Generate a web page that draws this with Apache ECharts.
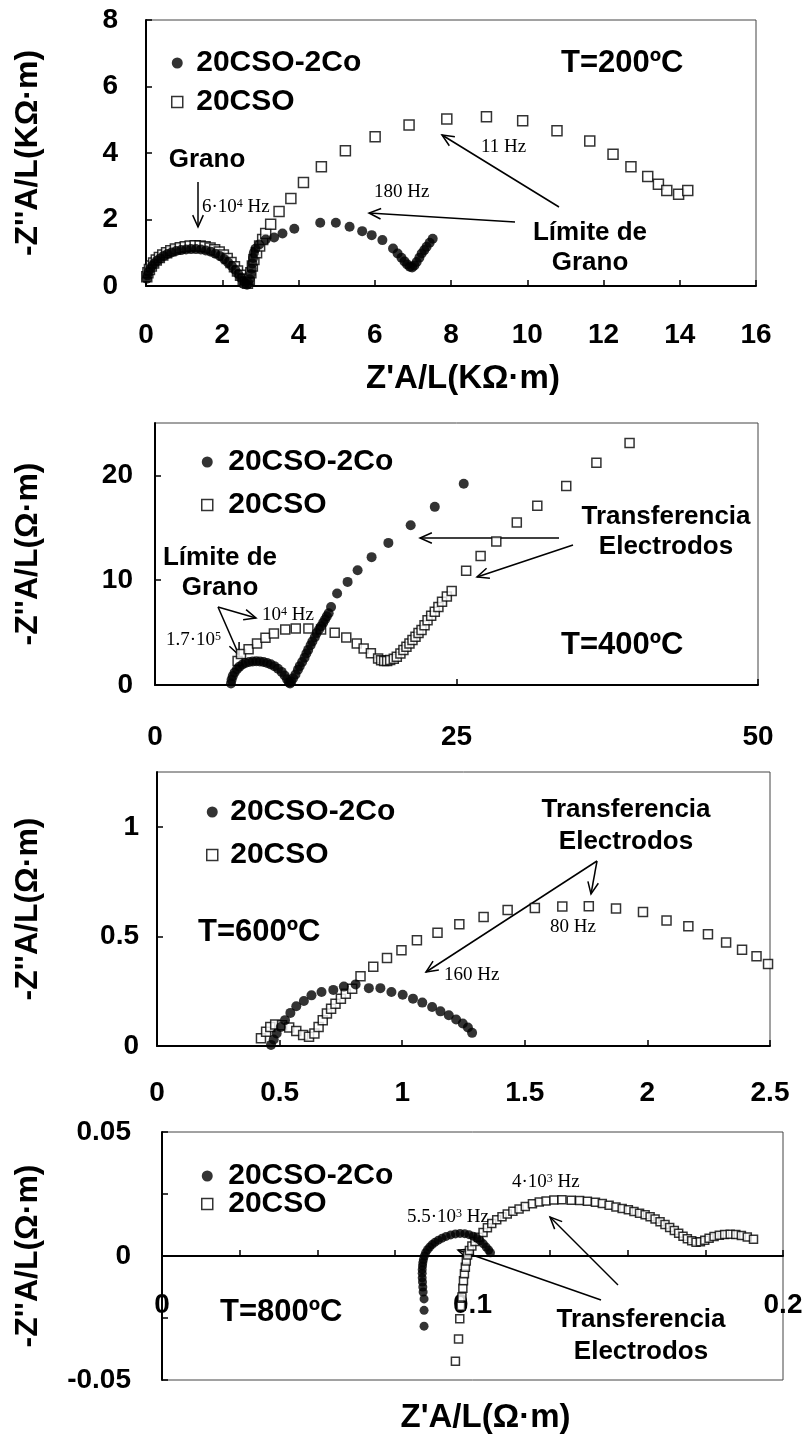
<!DOCTYPE html>
<html>
<head>
<meta charset="utf-8">
<script src="https://cdn.jsdelivr.net/npm/echarts@6/dist/echarts.min.js"></script>
<style>
html,body{margin:0;padding:0;background:#fff;}
#chart{width:807px;height:1443px;}
</style>
</head>
<body>
<div id="chart"></div>
<script>
// ---------- DATA ----------
// Panel 1: T=200ºC  (Z'A/L, -Z''A/L) in KΩ·m
const p1Co = [[0.02,0.22],[0.04,0.32],[0.07,0.42],[0.11,0.51],[0.16,0.6],[0.22,0.68],[0.29,0.76],[0.37,0.83],[0.46,0.9],[0.56,0.96],[0.67,1.01],[0.79,1.05],[0.92,1.08],[1.05,1.1],[1.18,1.11],[1.31,1.11],[1.44,1.1],[1.57,1.07],[1.7,1.03],[1.82,0.97],[1.94,0.9],[2.05,0.81],[2.15,0.71],[2.25,0.6],[2.34,0.48],[2.42,0.36],[2.49,0.25],[2.55,0.15],[2.6,0.08],[2.65,0.04],[2.69,0.08],[2.72,0.2],[2.75,0.36],[2.77,0.52],[2.79,0.68],[2.81,0.84],[2.83,1.0],[2.87,1.12],[2.97,1.25],[3.14,1.4],[3.36,1.46],[3.58,1.58],[3.89,1.72],[4.57,1.9],[4.98,1.9],[5.34,1.78],[5.67,1.65],[5.92,1.53],[6.2,1.38],[6.48,1.13],[6.6,0.98],[6.7,0.85],[6.78,0.74],[6.85,0.65],[6.92,0.58],[6.98,0.56],[7.04,0.62],[7.1,0.72],[7.17,0.85],[7.23,0.98],[7.3,1.08],[7.36,1.18],[7.44,1.3],[7.52,1.42]];
const p1Cso = [[0.02,0.28],[0.05,0.4],[0.09,0.5],[0.14,0.6],[0.2,0.69],[0.27,0.78],[0.35,0.86],[0.44,0.93],[0.54,1.0],[0.65,1.06],[0.77,1.11],[0.9,1.15],[1.03,1.18],[1.16,1.2],[1.29,1.21],[1.42,1.2],[1.55,1.18],[1.68,1.14],[1.8,1.09],[1.92,1.02],[2.03,0.93],[2.13,0.83],[2.23,0.71],[2.32,0.58],[2.4,0.45],[2.48,0.32],[2.55,0.2],[2.61,0.11],[2.66,0.08],[2.71,0.2],[2.75,0.4],[2.79,0.6],[2.83,0.8],[2.9,1.0],[2.98,1.2],[3.06,1.4],[3.14,1.58],[3.27,1.86],[3.49,2.24],[3.8,2.63],[4.13,3.11],[4.6,3.59],[5.23,4.07],[6.01,4.49],[6.9,4.84],[7.89,5.02],[8.93,5.09],[9.88,4.97],[10.78,4.67],[11.64,4.36],[12.25,3.96],[12.72,3.59],[13.16,3.29],[13.44,3.06],[13.66,2.87],[13.97,2.76],[14.21,2.87]];

// Panel 2: T=400ºC  in Ω·m
const p2Co = [[6.3,0.15],[6.35,0.5],[6.45,0.85],[6.6,1.2],[6.8,1.5],[7.0,1.75],[7.25,1.95],[7.5,2.1],[7.8,2.2],[8.1,2.25],[8.4,2.27],[8.7,2.25],[9.0,2.2],[9.3,2.1],[9.6,1.97],[9.9,1.8],[10.2,1.55],[10.5,1.25],[10.75,0.9],[10.95,0.55],[11.1,0.25],[11.2,0.15],[11.3,0.3],[11.45,0.65],[11.65,1.0],[11.85,1.45],[12.0,1.8],[12.2,2.2],[12.4,2.6],[12.55,3.0],[12.7,3.35],[12.9,3.8],[13.05,4.15],[13.25,4.55],[13.4,4.95],[13.6,5.3],[13.77,5.6],[13.95,5.95],[14.1,6.25],[14.25,6.55],[14.4,6.85],[14.6,7.45],[15.1,8.73],[15.97,9.84],[16.8,10.95],[17.96,12.2],[19.35,13.56],[21.2,15.24],[23.2,17.0],[25.6,19.2]];
const p2Cso = [[6.85,2.3],[7.13,2.95],[7.76,3.4],[8.46,3.97],[9.16,4.51],[9.86,4.92],[10.8,5.3],[11.67,5.4],[12.72,5.4],[13.77,5.3],[14.9,4.98],[15.86,4.54],[16.73,3.97],[17.3,3.49],[17.9,3.02],[18.5,2.54],[18.75,2.35],[19.0,2.29],[19.25,2.3],[19.5,2.38],[19.8,2.5],[20.05,2.7],[20.35,3.0],[20.6,3.33],[20.85,3.65],[21.1,3.97],[21.35,4.3],[21.6,4.6],[21.85,4.95],[22.1,5.24],[22.35,5.7],[22.6,6.19],[22.9,6.6],[23.2,6.98],[23.5,7.45],[23.8,7.94],[24.2,8.45],[24.6,8.98],[25.8,10.9],[27.0,12.3],[28.3,13.7],[30.0,15.5],[31.7,17.1],[34.1,19.0],[36.6,21.2],[39.35,23.1]];

// Panel 3: T=600ºC  in Ω·m
const p3Co = [[0.465,0.005],[0.476,0.03],[0.488,0.057],[0.505,0.087],[0.522,0.118],[0.544,0.151],[0.568,0.181],[0.599,0.205],[0.63,0.231],[0.671,0.246],[0.719,0.256],[0.762,0.271],[0.81,0.281],[0.864,0.264],[0.911,0.264],[0.956,0.246],[1.002,0.234],[1.044,0.216],[1.082,0.198],[1.122,0.178],[1.156,0.158],[1.19,0.14],[1.22,0.121],[1.247,0.103],[1.268,0.084],[1.285,0.06]];
const p3Cso = [[0.424,0.035],[0.445,0.065],[0.462,0.087],[0.482,0.098],[0.51,0.095],[0.539,0.084],[0.568,0.069],[0.596,0.05],[0.62,0.042],[0.642,0.057],[0.659,0.087],[0.676,0.118],[0.693,0.148],[0.71,0.17],[0.728,0.193],[0.75,0.216],[0.77,0.238],[0.796,0.261],[0.83,0.318],[0.882,0.362],[0.938,0.401],[0.997,0.437],[1.06,0.483],[1.144,0.517],[1.233,0.555],[1.332,0.588],[1.43,0.62],[1.541,0.63],[1.653,0.636],[1.761,0.638],[1.872,0.627],[1.982,0.611],[2.078,0.573],[2.167,0.546],[2.247,0.51],[2.321,0.472],[2.386,0.439],[2.445,0.409],[2.492,0.374]];

// Panel 4: T=800ºC  in Ω·m
const p4Co = [[0.0844,-0.0283],[0.0844,-0.0219],[0.0844,-0.0173],[0.0841,-0.0145],[0.084,-0.0125],[0.0839,-0.0105],[0.0838,-0.0088],[0.0838,-0.007],[0.0838,-0.0055],[0.0839,-0.004],[0.084,-0.0027],[0.0842,-0.0014],[0.0845,0.0],[0.0849,0.0013],[0.0855,0.0025],[0.0862,0.0036],[0.087,0.0046],[0.0879,0.0055],[0.089,0.0064],[0.0902,0.0072],[0.0915,0.0079],[0.093,0.0085],[0.0945,0.0089],[0.096,0.0091],[0.0975,0.009],[0.0989,0.0086],[0.1002,0.008],[0.1014,0.0071],[0.1025,0.0061],[0.1035,0.0049],[0.1044,0.0036],[0.1052,0.0024],[0.1058,0.0013]];
const p4Cso = [[0.0945,-0.0424],[0.0955,-0.0335],[0.0959,-0.0253],[0.0963,-0.0203],[0.0966,-0.0165],[0.0969,-0.013],[0.0971,-0.01],[0.0974,-0.0072],[0.0977,-0.0045],[0.098,-0.002],[0.0984,0.0004],[0.099,0.0022],[0.0998,0.004],[0.1008,0.0058],[0.102,0.0076],[0.1034,0.0095],[0.1048,0.0114],[0.1062,0.0131],[0.1078,0.0146],[0.1095,0.0158],[0.1112,0.0169],[0.113,0.018],[0.115,0.019],[0.117,0.02],[0.1193,0.0211],[0.1215,0.0218],[0.1237,0.0222],[0.1262,0.0226],[0.1288,0.0227],[0.1318,0.0225],[0.1345,0.0224],[0.137,0.0221],[0.1396,0.0217],[0.1418,0.0212],[0.144,0.0205],[0.1462,0.0198],[0.1482,0.0192],[0.1502,0.0186],[0.152,0.0179],[0.1538,0.0172],[0.1556,0.0166],[0.1572,0.0158],[0.1588,0.0149],[0.1604,0.0138],[0.162,0.0127],[0.1635,0.0115],[0.165,0.0103],[0.1664,0.0092],[0.1678,0.008],[0.1692,0.007],[0.1706,0.0061],[0.172,0.0055],[0.1734,0.0057],[0.1748,0.0064],[0.1762,0.0072],[0.1778,0.0079],[0.1795,0.0084],[0.1812,0.0087],[0.183,0.0088],[0.1848,0.0087],[0.1866,0.0083],[0.1885,0.0077],[0.1905,0.0068]];

const seriesNames = ['20CSO-2Co', '20CSO'];
const xTitles = ["Z'A/L(KΩ·m)", '', '', "Z'A/L(Ω·m)"];
const yTitles = ["-Z''A/L(KΩ·m)", "-Z''A/L(Ω·m)", "-Z''A/L(Ω·m)", "-Z''A/L(Ω·m)"];
const xRanges = [[0,16,2],[0,50,25],[0,2.5,0.5],[0,0.2,0.025]];
const yRanges = [[0,8,2],[0,25,10],[0,1.25,0.5],[-0.05,0.05,0.025]];
const tempLabels = ['T=200ºC','T=400ºC','T=600ºC','T=800ºC'];

// ---------- LAYOUT / STYLE ----------
const SANS = '"Liberation Sans", Arial, Helvetica, sans-serif';
const SERIF = '"Liberation Serif", "Times New Roman", serif';
const grids = [
  {left:146, top:20,   width:610, height:266},
  {left:155, top:423,  width:603, height:262},
  {left:157, top:772,  width:613, height:274},
  {left:162, top:1132, width:621, height:248}
];
const xLabelMargin = [35, 38, 33, 35];
const yLabelMargin = [28, 22, 18, 31];
const yNameGap = [102, 111, 113, 118];
const xNameGap = [76, 0, 0, 145];
const xAxisOffset = [0, 0, 0, -124];   // panel 4: x axis drawn through y = 0
const circleSize = [10, 10, 10, 9];
const squareSize = [10, 9, 9, 8];

function stepFormatter(step, dec) {
  return function (v) {
    const r = v / step;
    if (Math.abs(r - Math.round(r)) < 1e-6) {
      return String(+(Math.round(r) * step).toFixed(dec));
    }
    return '';
  };
}

const xAxes = xRanges.map((r, i) => ({
  type: 'value', gridIndex: i, min: r[0], max: r[1], interval: r[2],
  position: 'bottom', offset: xAxisOffset[i],
  name: xTitles[i], nameLocation: 'middle', nameGap: xNameGap[i],
  nameTextStyle: {fontFamily: SANS, fontWeight: 'bold', fontSize: 33, color: '#000', padding: [0,0,0,i===3?26:24]},
  axisLine: {show: true, onZero: false, lineStyle: {color: '#000', width: 2}},
  axisTick: {show: true, inside: true, length: 6, lineStyle: {color: '#000', width: 1.5}},
  axisLabel: {fontFamily: SANS, fontWeight: 'bold', fontSize: 28, color: '#000', margin: xLabelMargin[i],
    formatter: i === 3 ? stepFormatter(0.1, 1) : undefined},
  splitLine: {show: false}
}));
const yAxes = yRanges.map((r, i) => ({
  type: 'value', gridIndex: i, min: r[0], max: r[1], interval: r[2],
  name: yTitles[i], nameLocation: 'middle', nameGap: yNameGap[i], nameRotate: 90,
  nameTextStyle: {fontFamily: SANS, fontWeight: 'bold', fontSize: 32, color: '#000'},
  axisLine: {show: true, onZero: false, lineStyle: {color: '#000', width: 2}},
  axisTick: {show: true, inside: true, length: 6, lineStyle: {color: '#000', width: 1.5}},
  axisLabel: {fontFamily: SANS, fontWeight: 'bold', fontSize: 28, color: '#000', margin: yLabelMargin[i],
    showMaxLabel: (i === 1 || i === 2) ? false : true,
    formatter: i === 3 ? stepFormatter(0.05, 2) : undefined},
  splitLine: {show: false}
}));

const panelData = [[p1Co, p1Cso], [p2Co, p2Cso], [p3Co, p3Cso], [p4Co, p4Cso]];
const series = [];
panelData.forEach((pair, i) => {
  series.push({
    type: 'scatter', name: seriesNames[1], xAxisIndex: i, yAxisIndex: i,
    data: pair[1], symbol: 'rect', symbolSize: squareSize[i],
    itemStyle: {color: '#fff', borderColor: '#000', borderWidth: 1.5}, z: 2, animation: false
  });
  series.push({
    type: 'scatter', name: seriesNames[0], xAxisIndex: i, yAxisIndex: i,
    data: pair[0], symbol: 'circle', symbolSize: circleSize[i],
    itemStyle: {color: '#000'}, z: 3, animation: false
  });
});

const legendPos = [
  {left:171, top:48,   gap:9,  pad:8},
  {left:201, top:447,  gap:13, pad:10},
  {left:206, top:797,  gap:13, pad:7},
  {left:201, top:1161, gap:-2, pad:10}
];
const squareIcon = 'path://M0,0L10,0L10,10L0,10Z';
const legends = legendPos.map(p => ({
  orient: 'vertical', left: p.left, top: p.top, itemGap: p.gap, padding: 0,
  itemWidth: 12, itemHeight: 11, selectedMode: false, symbolKeepAspect: true,
  data: [{name: seriesNames[0], icon: 'circle'},
         {name: seriesNames[1], icon: squareIcon,
          itemStyle: {color: '#fff', borderColor: '#000', borderWidth: 1.5}}],
  textStyle: {fontFamily: SANS, fontWeight: 'bold', fontSize: 30, color: '#000', lineHeight: 30,
    padding: [0, 0, 0, p.pad]}
}));

// ---------- ANNOTATIONS ----------
function label(x, y, s, size, align) {
  return {type: 'text', x: x, y: y, z: 10, style: {text: s, fill: '#000', fontFamily: SANS, fontWeight: 'bold',
    fontSize: size, textAlign: align || 'left', textVerticalAlign: 'middle'}};
}
function hz(x, y, s) {
  return {type: 'text', x: x, y: y, z: 10, style: {text: s, fill: '#000', fontFamily: SERIF, fontSize: 19,
    textAlign: 'left', textVerticalAlign: 'middle',
    rich: {sup: {fontFamily: SERIF, fontSize: 12, verticalAlign: 'top', fill: '#000'}}}};
}
function arrow(x1, y1, x2, y2) {
  const a = Math.atan2(y2 - y1, x2 - x1), L = 13, w = 0.42;
  return {type: 'group', z: 10, children: [
    {type: 'line', shape: {x1: x1, y1: y1, x2: x2, y2: y2}, style: {stroke: '#000', lineWidth: 1.5}},
    {type: 'polyline', shape: {points: [[x2 - L*Math.cos(a - w), y2 - L*Math.sin(a - w)], [x2, y2],
      [x2 - L*Math.cos(a + w), y2 - L*Math.sin(a + w)]]}, style: {stroke: '#000', fill: null, lineWidth: 1.5}}
  ]};
}

const graphics = [
  // Panel 1
  label(561, 63, tempLabels[0], 31),
  label(207, 160, 'Grano', 26, 'center'),
  arrow(198, 182, 198, 227),
  hz(202, 207, '6·10{sup|4} Hz'),
  hz(481, 147, '11 Hz'),
  arrow(559, 207, 442, 135),
  hz(374, 192, '180 Hz'),
  arrow(515, 222, 369, 213),
  label(590, 233, 'Límite de', 26, 'center'),
  label(590, 263, 'Grano', 26, 'center'),
  // Panel 2
  label(666, 517, 'Transferencia', 26, 'center'),
  label(666, 547, 'Electrodos', 26, 'center'),
  arrow(559, 538, 420, 538),
  arrow(573, 545, 477, 577),
  label(220, 558, 'Límite de', 26, 'center'),
  label(220, 588, 'Grano', 26, 'center'),
  arrow(218, 607, 256, 618),
  arrow(218, 607, 239, 655),
  hz(262, 615, '10{sup|4} Hz'),
  hz(166, 640, '1.7·10{sup|5}'),
  label(561, 645, tempLabels[1], 31),
  // Panel 3
  label(626, 810, 'Transferencia', 26, 'center'),
  label(626, 842, 'Electrodos', 26, 'center'),
  arrow(597, 861, 591, 894),
  arrow(597, 861, 426, 972),
  hz(550, 927, '80 Hz'),
  hz(444, 975, '160 Hz'),
  label(198, 932, tempLabels[2], 31),
  // Panel 4
  hz(512, 1182, '4·10{sup|3} Hz'),
  hz(407, 1217, '5.5·10{sup|3} Hz'),
  arrow(618, 1285, 550, 1217),
  arrow(601, 1300, 458, 1250),
  label(641, 1320, 'Transferencia', 26, 'center'),
  label(641, 1352, 'Electrodos', 26, 'center'),
  label(220, 1312, tempLabels[3], 31)
];

const chart = echarts.init(document.getElementById('chart'), null, {renderer: 'canvas'});
chart.setOption({
  backgroundColor: '#fff',
  animation: false,
  grid: grids.map(g => Object.assign({show: true, borderColor: '#444', borderWidth: 1,
    containLabel: false, outerBoundsMode: 'none'}, g)),
  xAxis: xAxes,
  yAxis: yAxes,
  legend: legends,
  series: series,
  graphic: graphics
});
</script>
</body>
</html>
